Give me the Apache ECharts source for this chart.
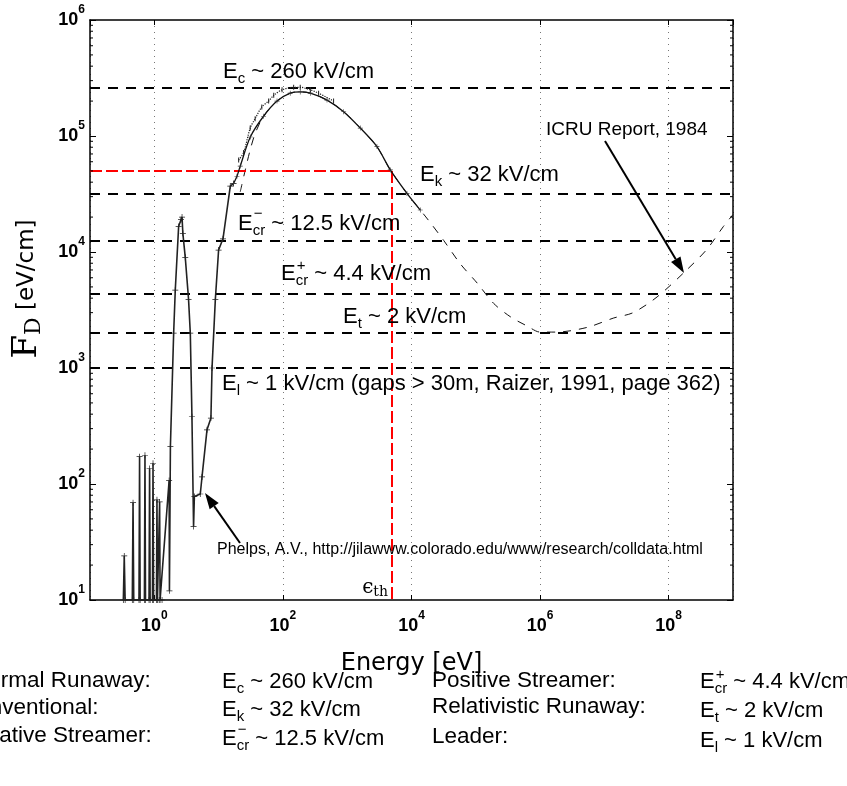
<!DOCTYPE html>
<html><head><meta charset="utf-8">
<script src="https://cdn.jsdelivr.net/npm/echarts@6/dist/echarts.min.js"></script>
<style>html,body{margin:0;padding:0;background:#fff}#c{width:847px;height:786px}</style>
</head><body><div id="c"></div>
<script>
// ---- data (energy in eV, F_D in eV/cm) ----
const phelpsE = [0.33,0.341,0.352, 0.455,0.467,0.479, 0.578,0.59,0.602, 0.702,0.716,0.73, 0.828,0.845,0.862, 0.936,0.955,0.975, 1.08,1.10,1.12, 1.19,1.21,1.23,
  1.32,1.70,1.72,1.78,2.0,2.12,2.39,2.6,2.7,2.78,3.03,3.41,3.63,3.85,4.08,4.2,5.19,5.52,6.6,7.6,7.9,8.9,10,11.7,15.2,17.1];
const phelpsF = [10,24,10, 10,69,10, 10,172,10, 10,177,10, 10,136,10, 10,151,10, 10,73,10, 10,70,10,
  10,107,12,210,2000,4700,16600,19000,20000,14500,9000,3900,2000,380,43,78,82,115,293,370,1000,3900,10400,13000,37000,39000];

const solidE = [17.1,19.3,21.7,31.1,50,81,130,186,267,485,879,1600,2900,4680,8500,13700];
const solidF = [39000,45000,55000,98000,148000,200000,234000,240000,234000,204000,162000,117000,81000,51000,32000,23000];

const dottedE = [20.5,24.5,31,37,47,60,72,97,147,186,267,359,614];
const dottedF = [62000,72000,117000,141000,178000,200000,224000,250000,263000,263000,250000,234000,200000];

const icruE = [21.7,26,31,37,50,81,130,186,267,485,879,1600,2900,4680,8500,13700,18600,31600,57500,1.05e5,1.9e5,3.5e5,6.3e5,1e6,1.8e6,5.4e6,1.4e7,2.8e7,6.6e7,1.8e8,3.9e8,7.1e8,1e9];
const icruF = [33000,51000,76000,105000,148000,200000,234000,240000,234000,204000,162000,117000,81000,51000,32000,23000,18600,12600,7900,5400,3600,2750,2300,2040,2040,2240,2700,3000,4100,6800,10500,16600,21000];

const thresholdF = [2.6e5, 3.2e4, 1.25e4, 4.4e3, 2e3, 1e3];
const epsTh = 5e3;     // eV
const fTh = 5e4;       // eV/cm

const xTicks = [1, 1e2, 1e4, 1e6, 1e8];
const yTicks = [1e1, 1e2, 1e3, 1e4, 1e5, 1e6];
const xMin = 0.1, xMax = 1e9, yMin = 10, yMax = 1e6;

// ---- helpers ----
const FONT = '"Liberation Sans", Arial, Helvetica, sans-serif';
const SERIF = '"DejaVu Serif", "Liberation Serif", serif';
const zip = (a, b) => a.map((v, i) => [v, b[i]]);
const yMinor = [];
yTicks.slice(0, -1).forEach(d => { for (let k = 2; k <= 9; k++) yMinor.push([1, d * k]); });

function sci(v) {
  const e = Math.round(Math.log10(v));
  return '{b|10}{s|' + e + '}';
}
const tickRich = {
  b: {fontSize: 18, fontWeight: 'bold', fontFamily: FONT, color: '#000'},
  s: {fontSize: 12, fontWeight: 'bold', fontFamily: FONT, color: '#000', padding: [0, 0, 20, 0]}
};
const isTick = (arr, v) => arr.some(t => Math.abs(Math.log10(t) - Math.log10(v)) < 1e-6);

function eLabel(x, base, sub, rest, size, sup) {
  const els = [{
    type: 'text', x: x, y: base - 0.35 * size, z: 100,
    style: {
      text: '{n|E}{sb|' + sub + '}{n|' + rest + '}',
      align: 'left', verticalAlign: 'middle',
      rich: {
        n: {fontSize: size, fontFamily: FONT, fill: '#000'},
        sb: {fontSize: Math.round(size * 0.68), fontFamily: FONT, fill: '#000', padding: [Math.round(size * 0.65), 0, 0, 0]}
      }
    }
  }];
  if (sup) {
    els.push({
      type: 'text', x: x + 0.667 * size + 1, y: base - (sup === '+' ? 0.71 : 0.8) * size, z: 100,
      style: {text: sup === '+' ? '+' : '\u2212', fontSize: Math.round(size * 0.68), fontFamily: FONT, fill: '#000', align: 'left', verticalAlign: 'middle'}
    });
  }
  return els;
}
function plain(x, base, text, size, align) {
  return {type: 'text', x: x, y: base - 0.35 * size, z: 100,
    style: {text: text, fontSize: size, fontFamily: FONT, fill: '#000', align: align || 'left', verticalAlign: 'middle'}};
}
function arrow(x1, y1, x2, y2, len, wid) {
  const a = Math.atan2(y2 - y1, x2 - x1);
  const bx = x2 - len * Math.cos(a), by = y2 - len * Math.sin(a);
  const px = -Math.sin(a) * wid / 2, py = Math.cos(a) * wid / 2;
  return [
    {type: 'line', z: 100, shape: {x1: x1, y1: y1, x2: bx, y2: by}, style: {stroke: '#000', lineWidth: 2}},
    {type: 'polygon', z: 100, shape: {points: [[x2, y2], [bx + px, by + py], [bx - px, by - py]]}, style: {fill: '#000'}}
  ];
}

const PLUS = 'path://M0,4.4h10v1.2h-10zM4.4,0h1.2v10h-1.2z';
const TICK = 'path://M0,0h1v10h-1z';

let graphics = [];
graphics = graphics.concat(
  eLabel(223, 80, 'c', ' ~ 260 kV/cm', 22),
  eLabel(420, 183, 'k', ' ~ 32 kV/cm', 22),
  eLabel(238, 231.5, 'cr', ' ~ 12.5 kV/cm', 22, '-'),
  eLabel(281, 281.5, 'cr', ' ~ 4.4 kV/cm', 22, '+'),
  eLabel(343, 325, 't', ' ~ 2 kV/cm', 22),
  eLabel(222, 391.5, 'l', ' ~ 1 kV/cm (gaps > 30m, Raizer, 1991, page 362)', 22),
  [plain(546, 136.5, 'ICRU Report, 1984', 19),
   plain(217, 555, 'Phelps, A.V., http://jilawww.colorado.edu/www/research/colldata.html', 16)],
  arrow(605, 141, 684, 273, 16, 11),
  arrow(240, 543, 205, 493, 16, 11),
  [{type: 'text', x: 388, y: 588, z: 100, style: {text: '{e|\u03f5}{t|th}', align: 'right', verticalAlign: 'middle',
     rich: {e: {fontSize: 20, fontFamily: SERIF, fill: '#000'}, t: {fontSize: 14, fontFamily: SERIF, fill: '#000', padding: [8, 0, 0, 0]}}}}],
  [{type: 'text', x: 27, y: 289, rotation: Math.PI / 2, z: 100, style: {text: '{F|F}{D|D}{u| [eV/cm]}', align: 'center', verticalAlign: 'middle',
     rich: {F: {fontSize: 34, fontFamily: SERIF, fill: '#000'}, D: {fontSize: 22, fontFamily: SERIF, fill: '#000', padding: [14, 0, 0, 0]},
            u: {fontSize: 23, fontFamily: '"DejaVu Sans", sans-serif', fill: '#000'}}}}],
  [plain(-38, 689, 'Thermal Runaway:', 22.5), plain(-39, 716, 'Conventional:', 22.5), plain(-42, 744, 'Negative Streamer:', 22.5),
   plain(432, 689, 'Positive Streamer:', 22.5), plain(432, 715, 'Relativistic Runaway:', 22.5), plain(432, 745, 'Leader:', 22.5)],
  eLabel(222, 690, 'c', ' ~ 260 kV/cm', 22),
  eLabel(222, 718, 'k', ' ~ 32 kV/cm', 22),
  eLabel(222, 747, 'cr', ' ~ 12.5 kV/cm', 22, '-'),
  eLabel(700, 690, 'cr', ' ~ 4.4 kV/cm', 22, '+'),
  eLabel(700, 719, 't', ' ~ 2 kV/cm', 22),
  eLabel(700, 749, 'l', ' ~ 1 kV/cm', 22)
);

const chart = echarts.init(document.getElementById('c'), null, {renderer: 'canvas'});
const axisLine = {show: true, lineStyle: {color: '#000', width: 1.5}};
chart.setOption({
  animation: false,
  backgroundColor: '#fff',
  grid: {left: 90, right: 114, top: 20, bottom: 186, containLabel: false},
  xAxis: [{
    type: 'log', logBase: 100, min: xMin, max: xMax, position: 'bottom',
    axisLine: axisLine, axisTick: {show: true, inside: true, length: 5, lineStyle: {color: '#000', width: 1}},
    axisLabel: {show: true, margin: 10, showMinLabel: false, showMaxLabel: false,
      formatter: v => isTick(xTicks, v) ? sci(v) : '', rich: tickRich},
    splitLine: {show: true, lineStyle: {color: '#777', type: [1, 5], width: 1}},
    name: 'Energy [eV]', nameLocation: 'middle', nameGap: 52,
    nameTextStyle: {fontSize: 24, fontFamily: '"DejaVu Sans", sans-serif', color: '#000'}
  }, {
    type: 'log', logBase: 100, min: xMin, max: xMax, position: 'top',
    axisLine: axisLine, axisTick: {show: true, inside: true, length: 5, lineStyle: {color: '#000', width: 1}},
    axisLabel: {show: false}, splitLine: {show: false}
  }],
  yAxis: [{
    type: 'log', logBase: 10, min: yMin, max: yMax, position: 'left',
    axisLine: axisLine, axisTick: {show: true, inside: true, length: 6, lineStyle: {color: '#000', width: 1}},
    axisLabel: {show: true, margin: 5, formatter: v => isTick(yTicks, v) ? sci(v) : '', rich: tickRich},
    splitLine: {show: false}
  }, {
    type: 'log', logBase: 10, min: yMin, max: yMax, position: 'right',
    axisLine: axisLine, axisTick: {show: true, inside: true, length: 6, lineStyle: {color: '#000', width: 1}},
    axisLabel: {show: false}, splitLine: {show: false}
  }],
  graphic: graphics,
  series: [
    {
      type: 'custom', name: 'minorTicks', silent: true, data: yMinor, z: 5,
      encode: {x: 0, y: 1},
      renderItem: (params, api) => {
        const v = api.value(1);
        const pL = api.coord([xMin, v]), pR = api.coord([xMax, v]);
        return {type: 'group', children: [
          {type: 'line', shape: {x1: pL[0], y1: pL[1], x2: pL[0] + 3, y2: pL[1]}, style: {stroke: '#000', lineWidth: 1}},
          {type: 'line', shape: {x1: pR[0] - 3, y1: pR[1], x2: pR[0], y2: pR[1]}, style: {stroke: '#000', lineWidth: 1}}
        ]};
      }
    },
    {
      type: 'line', name: 'ICRU', data: zip(icruE, icruF), smooth: 0.3, showSymbol: false, z: 3,
      lineStyle: {color: '#111', width: 1, type: [8, 8]},
      markLine: {
        silent: true, symbol: 'none', label: {show: false},
        lineStyle: {color: '#000', width: 1.8, type: [10, 8]},
        data: thresholdF.map(v => ({yAxis: v}))
      }
    },
    {
      type: 'line', name: 'threshold', data: [], z: 4,
      markLine: {
        silent: true, symbol: 'none', label: {show: false},
        lineStyle: {color: '#ff0000', width: 2, type: [12, 4]},
        data: [
          [{coord: [xMin, fTh]}, {coord: [epsTh, fTh]}],
          [{coord: [epsTh, fTh]}, {coord: [epsTh, yMin]}]
        ]
      }
    },
    {
      type: 'line', name: 'Phelps', data: zip(phelpsE, phelpsF), z: 6,
      symbol: PLUS, symbolSize: 6, showAllSymbol: true,
      itemStyle: {color: '#222'}, lineStyle: {color: '#222', width: 1.6}
    },
    {
      type: 'line', name: 'solid', data: zip(solidE, solidF), smooth: 0.3, z: 6,
      symbol: PLUS, symbolSize: 5, showAllSymbol: true,
      itemStyle: {color: '#333'}, lineStyle: {color: '#111', width: 1.3}
    },
    {
      type: 'line', name: 'dotted', data: zip(dottedE, dottedF), smooth: 0.3, z: 6,
      symbol: TICK, symbolSize: [1, 5], showAllSymbol: true,
      itemStyle: {color: '#222'}, lineStyle: {color: '#222', width: 1.2, type: 'dotted'}
    }
  ]
});
</script>
</body></html>
